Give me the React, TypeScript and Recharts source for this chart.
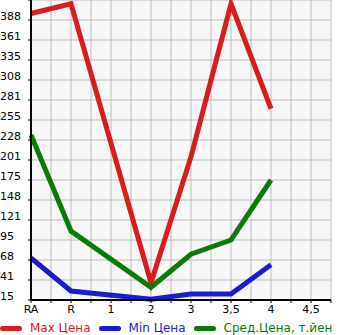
import { LineChart, Line, XAxis, YAxis, CartesianGrid, Legend } from "recharts";

const categories = ["RA", "R", "1", "2", "3", "3,5", "4", "4,5"];
const maxPrice = [397, 410, null, 38, 206, 410, 270, null];
const minPrice = [71, 27, null, 16, 23, 23, 62, null];
const avgPrice = [235, 107, null, 32, 76, 95, 175, null];

const yMin = 15;
const yMax = 415;
const yTicks = Array.from({ length: 16 }, (_, k) => yMin + (k * (yMax - yMin)) / 15);
const xTicks = Array.from({ length: 16 }, (_, k) => k / 2);

const series = [
  { key: "max", name: "Max Цена", color: "#d91c1c" },
  { key: "min", name: "Min Цена", color: "#1b1bd4" },
  { key: "avg", name: "Сред.Цена, т.йен", color: "#0b7a0b" },
];

const data = categories.map((c, i) => ({
  x: i,
  label: c,
  max: maxPrice[i],
  min: minPrice[i],
  avg: avgPrice[i],
}));

const font = "DejaVu Sans, sans-serif";

function YTick(props: any) {
  const { y, payload } = props;
  if (payload.value >= yMax - 0.01) return null;
  return (
    <text x={0} y={y - 3} textAnchor="start" dominantBaseline="middle" fontSize={11} fontFamily={font} fill="#000">
      {Math.floor(payload.value + 0.001)}
    </text>
  );
}

function XTick(props: any) {
  const { x, y, payload } = props;
  const v = payload.value;
  if (!Number.isInteger(v)) return null;
  return (
    <text x={x} y={y + 8} textAnchor="middle" fontSize={11} fontFamily={font} fill="#000">
      {categories[v]}
    </text>
  );
}

function LegendContent() {
  return (
    <div style={{ display: "flex", alignItems: "center", fontFamily: font, fontSize: 12, whiteSpace: "nowrap" }}>
      {series.map((s) => (
        <div key={s.key} style={{ display: "flex", alignItems: "center", marginRight: 8 }}>
          <span style={{ display: "inline-block", width: 22, height: 5, borderRadius: 3, background: s.color, marginRight: 8 }} />
          <span style={{ color: s.color }}>{s.name}</span>
        </div>
      ))}
    </div>
  );
}

export default function App() {
  return (
    <div style={{ position: "absolute", left: 0, top: 0, width: 345, height: 335, background: "#fff" }}>
      <LineChart width={345} height={335} data={data} margin={{ top: 0, right: 14, left: 0, bottom: 0 }}>
        <CartesianGrid stroke="#bdbdbd" strokeWidth={1} fill="#f7f7f7" fillOpacity={1} />
        <XAxis
          dataKey="x"
          type="number"
          domain={[0, 7.5]}
          ticks={xTicks}
          interval={0}
          height={20}
          tick={<XTick />}
          tickSize={3}
          tickLine={{ stroke: "#000" }}
          axisLine={{ stroke: "#000", strokeWidth: 2 }}
        />
        <YAxis
          type="number"
          domain={[yMin, yMax]}
          ticks={yTicks}
          interval={0}
          width={31}
          tick={<YTick />}
          tickSize={3}
          tickLine={{ stroke: "#000" }}
          axisLine={{ stroke: "#000", strokeWidth: 2 }}
        />
        <Legend
          verticalAlign="bottom"
          content={<LegendContent />}
          wrapperStyle={{ position: "absolute", left: 0, top: 321, width: 345, height: 15 }}
        />
        {series.map((s) => (
          <Line
            key={s.key}
            type="linear"
            dataKey={s.key}
            name={s.name}
            stroke={s.color}
            strokeWidth={5}
            dot={false}
            activeDot={false}
            connectNulls
            isAnimationActive={false}
          />
        ))}
      </LineChart>
    </div>
  );
}
